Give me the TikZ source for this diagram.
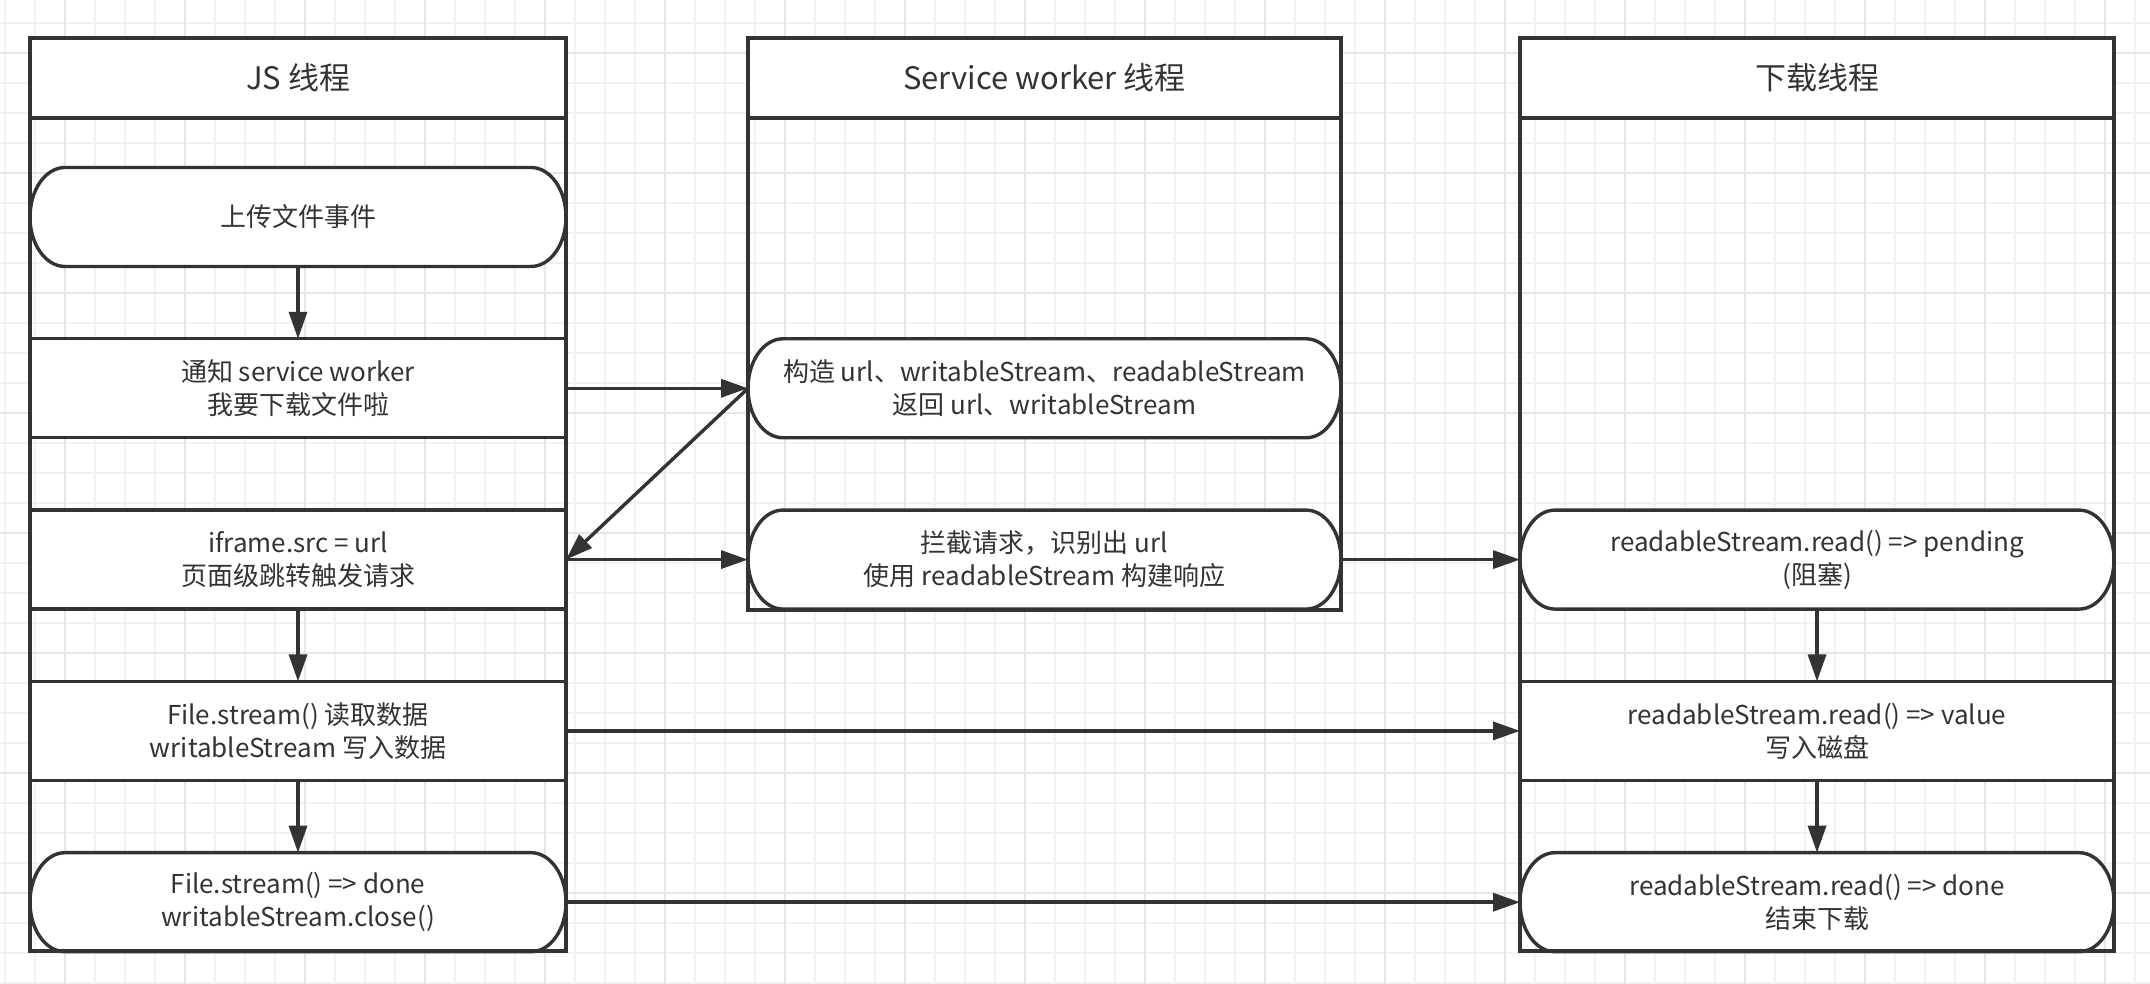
\documentclass[tikz,border=0pt]{standalone}
\usepackage{fontspec}
\setmainfont{Noto Sans CJK SC}
\usetikzlibrary{arrows.meta, positioning, calc, backgrounds}

\definecolor{ink}{HTML}{333333}
\definecolor{gridfine}{HTML}{F2F2F2}
\definecolor{gridbold}{HTML}{E6E6E6}

\tikzset{
  lanehead/.style={rectangle, minimum height=40pt, inner sep=0pt, outer sep=0pt,
    draw=ink, line width=1.7pt, fill=white, text=ink,
    font=\fontsize{15.5}{18}\selectfont},
  lanebody/.style={rectangle, inner sep=0pt, outer sep=0pt, draw=ink, line width=1.7pt},
  stepbox/.style={rectangle, minimum height=49.5pt, inner sep=0pt, outer sep=0pt,
    align=center, draw=ink, line width=1.7pt, fill=white, text=ink,
    font=\fontsize{13}{16.5}\selectfont},
  pillbox/.style={stepbox, draw=none, fill=none},
  pillline/.style={draw=ink, line width=1.7pt, fill=white},
  arr/.style={-{Triangle[length=13.5pt, width=9pt]}, line width=1.7pt, draw=ink},
  finegrid/.style={draw=gridfine, line width=1pt},
  boldgrid/.style={draw=gridbold, line width=1pt},
}

% pill outline with elliptic ends, put behind the node text
\newcommand{\pillframe}[1]{%
  \draw[pillline] let \p1=(#1.north west), \p2=(#1.south east),
      \n1={0.5*(\y1-\y2)} in
    (\x1+17.5pt,\y1) -- (\x2-17.5pt,\y1)
    arc[start angle=90, end angle=-90, x radius=17.5pt, y radius=\n1]
    -- (\x1+17.5pt,\y2)
    arc[start angle=270, end angle=90, x radius=17.5pt, y radius=\n1]
    -- cycle;}

\begin{document}
\begin{tikzpicture}[x=0.5pt, y=0.5pt, node distance=36.15pt]
  \useasboundingbox (0,0) rectangle (2150,984);
  \begin{scope}[on background layer]
    \fill[white] (0,0) rectangle (2150,984);
    \foreach \gx in {5,35,...,2135} \draw[finegrid] (\gx,0) -- (\gx,984);
    \foreach \gy in {1,31,...,961} \draw[finegrid] (0,\gy) -- (2150,\gy);
    \foreach \gx in {65,185,...,2105} \draw[boldgrid] (\gx,0) -- (\gx,984);
    \foreach \gy in {91,211,...,931} \draw[boldgrid] (0,\gy) -- (2150,\gy);
  \end{scope}

  % lanes
  \node[lanebody, minimum width=268pt, minimum height=416.5pt] (jslane) at (298,449.5) {};
  \node[lanebody, minimum width=296.5pt, minimum height=246pt] (swlane) at (1044.5,620) {};
  \node[lanebody, minimum width=297pt, minimum height=416.5pt] (dllane) at (1817,449.5) {};
  \node[lanehead, minimum width=268pt] (jshead) at (298,906) {JS 线程};
  \node[lanehead, minimum width=296.5pt] (swhead) at (1044.5,906) {Service worker 线程};
  \node[lanehead, minimum width=297pt] (dlhead) at (1817,906) {下载线程};

  % JS thread
  \node[pillbox, minimum width=268pt] (upload) at (298,767) {上传文件事件};
  \node[stepbox, minimum width=268pt, below=of upload] (notify) {通知 service worker\\我要下载文件啦};
  \node[stepbox, minimum width=268pt, below=of notify] (iframe) {iframe.src = url\\页面级跳转触发请求};
  \node[stepbox, minimum width=268pt, below=of iframe] (readfile) {File.stream() 读取数据\\writableStream 写入数据};
  \node[pillbox, minimum width=268pt, below=of readfile] (jsdone) {File.stream() => done\\writableStream.close()};

  % service worker thread
  \node[pillbox, minimum width=296.5pt] (build) at (notify -| swhead) {构造 url、writableStream、readableStream\\返回 url、writableStream};
  \node[pillbox, minimum width=296.5pt] (intercept) at (iframe -| swhead) {拦截请求，识别出 url\\使用 readableStream 构建响应};

  % download thread
  \node[pillbox, minimum width=297pt] (pending) at (iframe -| dlhead) {readableStream.read() => pending\\(阻塞)};
  \node[stepbox, minimum width=297pt] (value) at (readfile -| dlhead) {readableStream.read() => value\\写入磁盘};
  \node[pillbox, minimum width=297pt] (dldone) at (jsdone -| dlhead) {readableStream.read() => done\\结束下载};

  \begin{scope}[on background layer]
    \foreach \pn in {upload,jsdone,build,intercept,pending,dldone} \pillframe{\pn};
  \end{scope}

  \draw[arr] (upload.south) -- (notify.north);
  \draw[arr] (notify.east) -- (build.west);
  \draw[arr] (build.west) -- (iframe.east);
  \draw[arr] (iframe.east) -- (intercept.west);
  \draw[arr] (intercept.east) -- (pending.west);
  \draw[arr] (iframe.south) -- (readfile.north);
  \draw[arr] (readfile.east) -- (value.west);
  \draw[arr] (readfile.south) -- (jsdone.north);
  \draw[arr] (jsdone.east) -- (dldone.west);
  \draw[arr] (pending.south) -- (value.north);
  \draw[arr] (value.south) -- (dldone.north);
\end{tikzpicture}
\end{document}
